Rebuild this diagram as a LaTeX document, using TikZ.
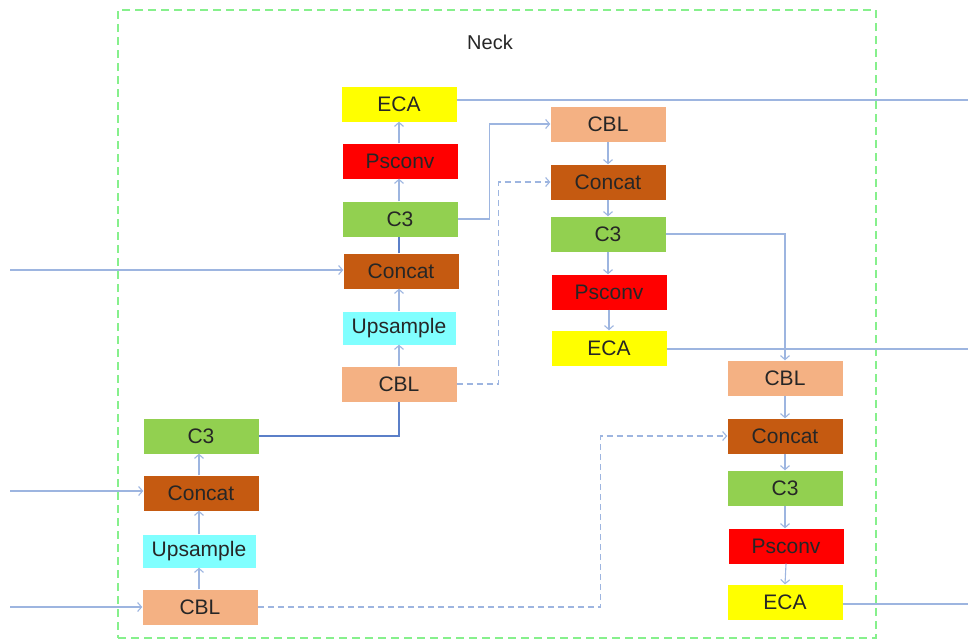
\documentclass[tikz,border=0pt]{standalone}
\usepackage{fontspec}
\setmainfont{Liberation Sans}
\usetikzlibrary{arrows.meta}
\definecolor{ecaY}{HTML}{FFFF00}
\definecolor{psR}{HTML}{FF0000}
\definecolor{c3G}{HTML}{92D050}
\definecolor{catB}{HTML}{C55A11}
\definecolor{cblP}{HTML}{F4B183}
\definecolor{upC}{HTML}{80FFFF}
\definecolor{lnL}{HTML}{9DB5E0}
\definecolor{lnD}{HTML}{5B7FC8}
\definecolor{frG}{HTML}{86F08C}
\tikzset{
  blk/.style={inner sep=0pt, minimum width=115pt, minimum height=35pt,
    font=\fontsize{21}{25}\selectfont, text=black!85},
  eca/.style={blk, fill=ecaY},
  psc/.style={blk, fill=psR},
  cthree/.style={blk, fill=c3G},
  cat/.style={blk, fill=catB},
  cbl/.style={blk, fill=cblP},
  ups/.style={blk, fill=upC, minimum width=113pt, minimum height=33pt},
  ln/.style={draw=lnL, line width=1.1pt},
  lnd/.style={draw=lnD, line width=1.4pt},
  arr/.style={-{Straight Barb[length=4pt,width=9pt]}},
  dsh/.style={dash pattern=on 6pt off 4pt},
  frame/.style={draw=frG, line width=1.4pt, dash pattern=on 8pt off 5pt,
    minimum width=758pt, minimum height=628pt, inner sep=0pt}
}
\begin{document}
\begin{tikzpicture}[x=1pt, y=-1pt]
\useasboundingbox (0,0) rectangle (968,640);
% outer frame and title
\node[frame] (nk) at (497,324) {};
\node[font=\fontsize{20}{24}\selectfont, text=black!85] (nktitle) at (490,42) {Neck};

% column 1 (bottom-left)
\node[cthree] (c3a) at (201,436) {C3};
\node[cat] (cata) at (201,493) {Concat};
\node[ups] (upa) at (199,551) {Upsample};
\node[cbl] (cbla) at (200,607) {CBL};

% column 2
\node[eca] (ecab) at (399,104) {ECA};
\node[psc] (pscb) at (400,161) {Psconv};
\node[cthree] (c3b) at (400,219) {C3};
\node[cat] (catb) at (401,271) {Concat};
\node[ups] (upb) at (399,328) {Upsample};
\node[cbl] (cblb) at (399,384) {CBL};

% column 3
\node[cbl] (cblc) at (608,124) {CBL};
\node[cat] (catc) at (608,182) {Concat};
\node[cthree] (c3c) at (608,234) {C3};
\node[psc] (pscc) at (609,292) {Psconv};
\node[eca] (ecac) at (609,348) {ECA};

% column 4
\node[cbl] (cbld) at (785,378) {CBL};
\node[cat] (catd) at (785,436) {Concat};
\node[cthree] (c3d) at (785,488) {C3};
\node[psc] (pscd) at (786,546) {Psconv};
\node[eca] (ecad) at (785,602) {ECA};

% free ends of the incoming and outgoing lines
\coordinate (ina) at (10,607);
\coordinate (inb) at (10,491);
\coordinate (inc) at (10,270);
\coordinate (outb) at (968,100);
\coordinate (outc) at (968,349);
\coordinate (outd) at (968,604);

% inputs
\draw[ln,arr] (ina) -- (cbla.west |- ina);
\draw[ln,arr] (inb) -- (cata.west |- inb);
\draw[ln,arr] (inc) -- (catb.west |- inc);

% column 1 flow
\draw[ln,arr] (cbla.north -| upa) -- (upa.south);
\draw[ln,arr] (upa.north) -- (upa.north |- cata.south);
\draw[ln,arr] (cata.north -| upa) -- (upa |- c3a.south);
\draw[lnd] (c3a.east) -| (cblb.south);

% column 2 flow
\draw[ln,arr] (cblb.north) -- (upb.south);
\draw[ln,arr] (upb.north) -- (upb.north |- catb.south);
\draw[lnd] (catb.north -| upb) -- (upb |- c3b.south);
\draw[ln,arr] (c3b.north -| upb) -- (upb |- pscb.south);
\draw[ln,arr] (pscb.north -| upb) -- (upb |- ecab.south);
\draw[ln] (ecab.east |- outb) -- (outb);
\draw[ln,arr] (c3b.east) -- ++(32,0) |- (cblc.west);
\draw[ln,dsh,arr] (cblb.east) -- ++(42,0) |- (catc.west);

% column 3 flow
\draw[ln,arr] (cblc.south) -- (catc.north);
\draw[ln,arr] (catc.south) -- (c3c.north);
\draw[ln,arr] (c3c.south) -- (c3c.south |- pscc.north);
\draw[ln,arr] (pscc.south) -- (ecac.north);
\draw[ln] (ecac.east |- outc) -- (outc);
\draw[ln,arr] (c3c.east) -| (cbld.north);

% column 4 flow
\draw[ln,dsh,arr] (cbla.east) -- ++(343,0) |- (catd.west);
\draw[ln,arr] (cbld.south) -- (catd.north);
\draw[ln,arr] (catd.south) -- (c3d.north);
\draw[ln,arr] (c3d.south) -- (c3d.south |- pscd.north);
\draw[ln,arr] (pscd.south) -- (ecad.north);
\draw[ln] (ecad.east |- outd) -- (outd);
\end{tikzpicture}
\end{document}
